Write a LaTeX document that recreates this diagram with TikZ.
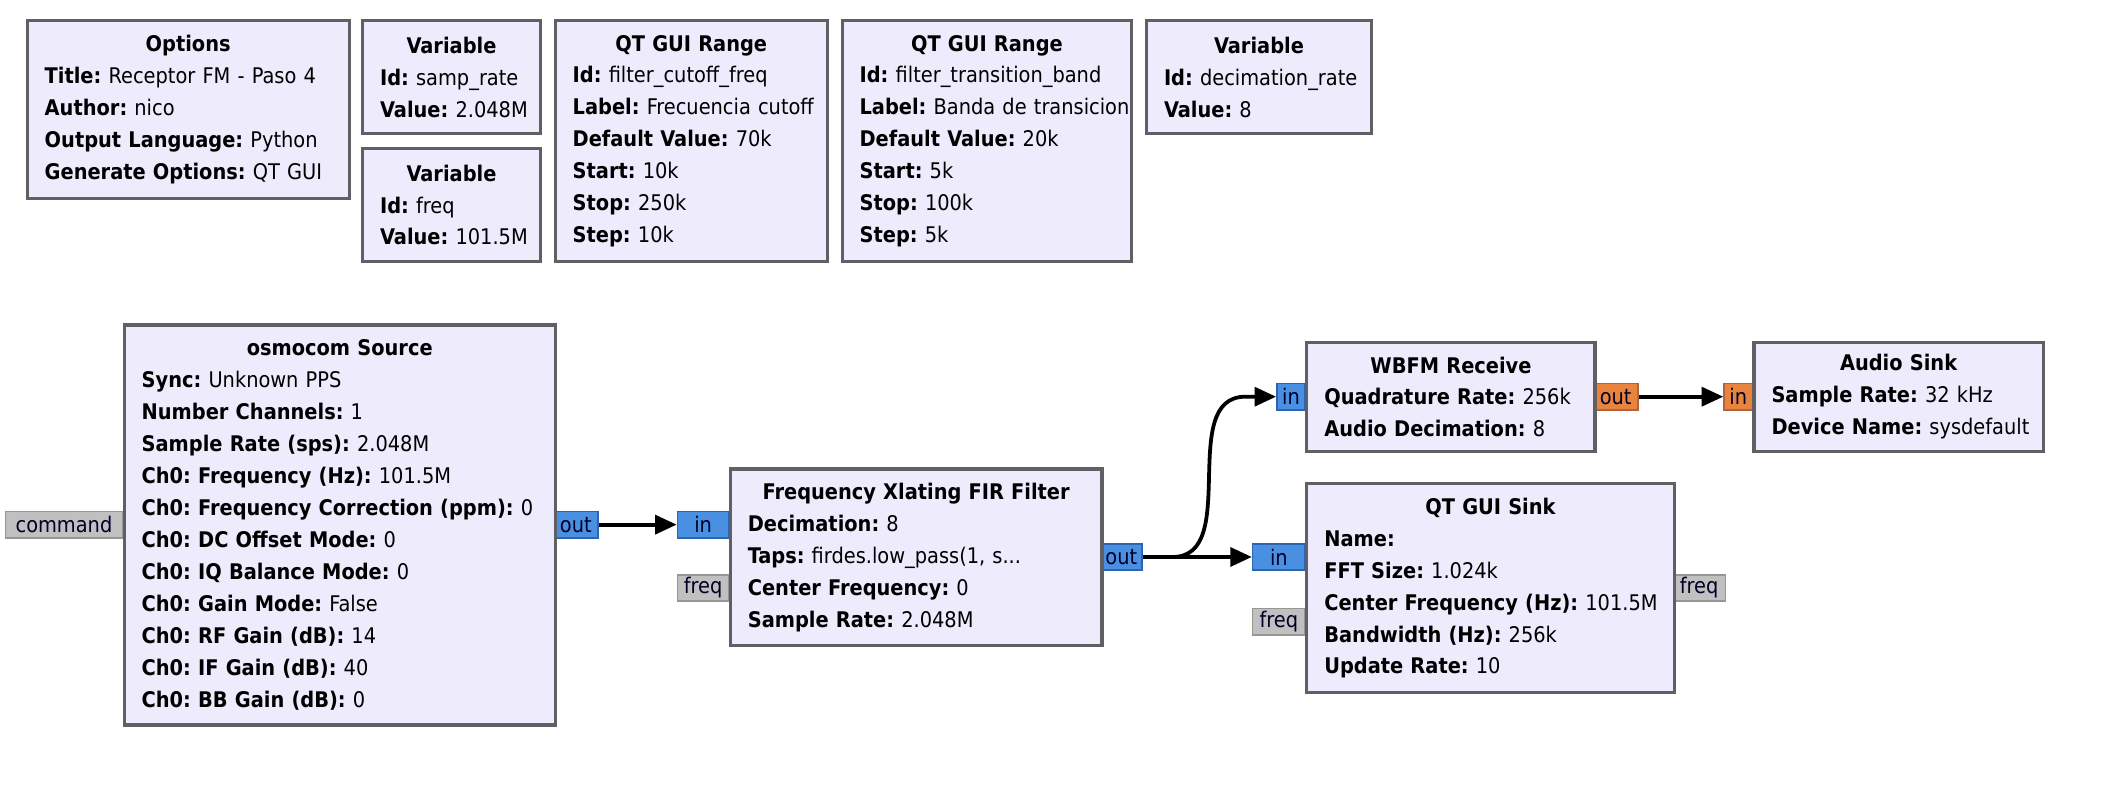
\documentclass[tikz,border=0pt]{standalone}
\usepackage{fontspec}
\setmainfont{DejaVu Sans Condensed}
\usetikzlibrary{arrows.meta}
\frenchspacing

\definecolor{blkfill}{RGB}{238,235,252}
\definecolor{blkline}{RGB}{96,96,100}
\definecolor{cplx}{RGB}{74,144,226}
\definecolor{cplxline}{RGB}{46,100,175}
\definecolor{flt}{RGB}{232,132,62}
\definecolor{fltline}{RGB}{178,100,62}
\definecolor{msg}{RGB}{192,192,192}
\definecolor{msgline}{RGB}{150,150,150}

\tikzset{
  blk/.style={draw=blkline, fill=blkfill, line width=1.2pt, anchor=north west,
    align=left, inner xsep=6.5pt, inner ysep=0pt,
    font=\fontsize{8}{11.85}\selectfont},
  port/.style={line width=0.6pt, inner sep=0pt, minimum height=9.75pt,
    text=black!85!blue, font=\fontsize{8}{9}\selectfont},
  cport/.style={port, draw=cplxline, fill=cplx},
  fport/.style={port, draw=fltline, fill=flt},
  mport/.style={port, draw=msgline, fill=msg},
  conn/.style={line width=1.4pt, -{Triangle[length=8pt,width=7pt]}}
}
\newcommand{\ttl}[1]{\hspace*{\fill}\mbox{\textbf{#1}}\hspace*{\fill}\mbox{}\\}
\newcommand{\kv}[2]{\mbox{\textbf{#1:} #2}}

\begin{document}
\begin{tikzpicture}[x=0.5pt,y=-0.5pt]
\useasboundingbox (0,0) rectangle (1568,591);

% options and variables
\node[blk, text width=106.5pt, minimum height=66pt] (opts) at (19,14) {\ttl{Options}
  \kv{Title}{Receptor FM - Paso 4}\\ \kv{Author}{nico}\\
  \kv{Output Language}{Python}\\ \kv{Generate Options}{QT GUI}};
\node[blk, text width=53pt, minimum height=42pt] (samp) at (268,14) {\ttl{Variable}
  \kv{Id}{samp\_rate}\\ \kv{Value}{2.048M}};
\node[blk, text width=53pt, minimum height=42pt] (freq) at (268,109) {\ttl{Variable}
  \kv{Id}{freq}\\ \kv{Value}{101.5M}};
\node[blk, text width=88pt, minimum height=89.5pt] (cutoff) at (411,14) {\ttl{QT GUI Range}
  \kv{Id}{filter\_cutoff\_freq}\\ \kv{Label}{Frecuencia cutoff}\\
  \kv{Default Value}{70k}\\ \kv{Start}{10k}\\ \kv{Stop}{250k}\\ \kv{Step}{10k}};
\node[blk, text width=94.5pt, minimum height=89.5pt] (trans) at (624,14) {\ttl{QT GUI Range}
  \kv{Id}{filter\_transition\_band}\\ \kv{Label}{Banda de transicion}\\
  \kv{Default Value}{20k}\\ \kv{Start}{5k}\\ \kv{Stop}{100k}\\ \kv{Step}{5k}};
\node[blk, text width=70.5pt, minimum height=42pt] (decim) at (850,14) {\ttl{Variable}
  \kv{Id}{decimation\_rate}\\ \kv{Value}{8}};

% ports
\node[mport, minimum width=43.5pt] (cmd) at (47.5,389.5) {command};
\node[cport, minimum width=16.5pt] (oout) at (427.5,389.5) {out};
\node[cport, minimum width=19pt] (xlin) at (522,389.5) {in};
\node[mport, minimum width=19pt] (xlfreq) at (522,436.5) {freq};
\node[cport, minimum width=15.5pt] (xlout) at (832.5,413.5) {out};
\node[cport, minimum width=10.5pt] (wbin) at (958.5,294.5) {in};
\node[fport, minimum width=16.5pt] (wbout) at (1199.5,294.5) {out};
\node[fport, minimum width=10.5pt] (asin) at (1290.5,294.5) {in};
\node[cport, minimum width=19.5pt] (qsin) at (949.5,413.5) {in};
\node[mport, minimum width=19.5pt] (qsfreq) at (949.5,461.5) {freq};
\node[mport, minimum width=19.5pt] (qsfreqout) at (1261.5,436.5) {freq};

% flow graph blocks
\node[blk, text width=147pt, minimum height=148.5pt] (osmo) at (91,240) {\ttl{osmocom Source}
  \kv{Sync}{Unknown PPS}\\ \kv{Number Channels}{1}\\
  \kv{Sample Rate (sps)}{2.048M}\\ \kv{Ch0: Frequency (Hz)}{101.5M}\\
  \kv{Ch0: Frequency Correction (ppm)}{0}\\ \kv{Ch0: DC Offset Mode}{0}\\
  \kv{Ch0: IQ Balance Mode}{0}\\ \kv{Ch0: Gain Mode}{False}\\
  \kv{Ch0: RF Gain (dB)}{14}\\ \kv{Ch0: IF Gain (dB)}{40}\\
  \kv{Ch0: BB Gain (dB)}{0}};
\node[blk, text width=125pt, minimum height=65.5pt] (xlat) at (541,347) {\ttl{Frequency Xlating FIR Filter}
  \kv{Decimation}{8}\\ \kv{Taps}{firdes.low\_pass(1, s...}\\
  \kv{Center Frequency}{0}\\ \kv{Sample Rate}{2.048M}};
\node[blk, text width=94pt, minimum height=40.5pt] (wbfm) at (969,253) {\ttl{WBFM Receive}
  \kv{Quadrature Rate}{256k}\\ \kv{Audio Decimation}{8}};
\node[blk, text width=94.5pt, minimum height=40.5pt] (audio) at (1301,253) {\ttl{Audio Sink}
  \kv{Sample Rate}{32 kHz}\\ \kv{Device Name}{sysdefault}};
\node[blk, text width=123.5pt, minimum height=77.5pt] (qtsink) at (969,358) {\ttl{QT GUI Sink}
  \kv{Name}{}\\ \kv{FFT Size}{1.024k}\\ \kv{Center Frequency (Hz)}{101.5M}\\
  \kv{Bandwidth (Hz)}{256k}\\ \kv{Update Rate}{10}};

% connections
\draw[conn] (oout) -- (xlin);
\draw[conn] (xlout) -- (qsin);
\draw[conn] (xlout.east) -- ++(22,0) to[out=0,in=180] ++(54,-119) -- (wbin);
\draw[conn] (wbout) -- (asin);
\end{tikzpicture}
\end{document}
